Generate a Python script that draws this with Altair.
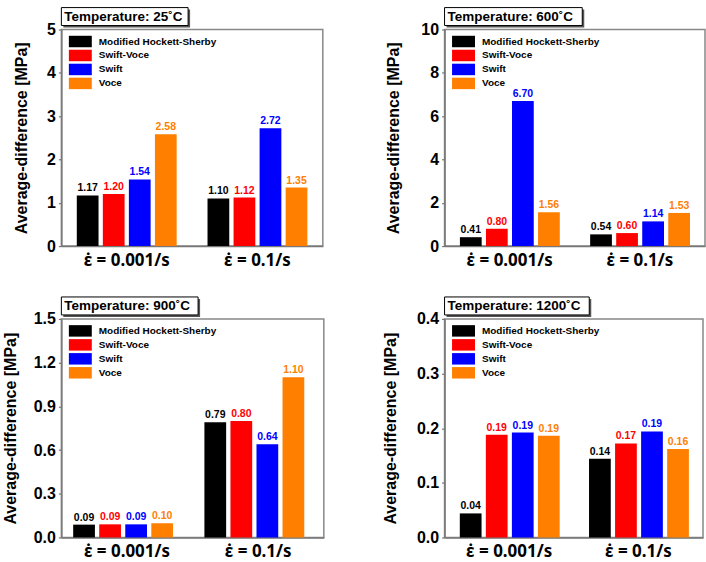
import altair as alt
import pandas as pd

FONT = "Liberation Sans"

models = ["Modified Hockett-Sherby", "Swift-Voce", "Swift", "Voce"]
colors = ["#000000", "#FF0000", "#0000FF", "#FF8000"]
rates = ["ε̇ = 0.001/s", "ε̇ = 0.1/s"]

temps = ["25", "600", "900", "1200"]

v25_slow = [1.17, 1.20, 1.54, 2.58]
v25_fast = [1.10, 1.12, 2.72, 1.35]
v600_slow = [0.41, 0.80, 6.70, 1.56]
v600_fast = [0.54, 0.60, 1.14, 1.53]
v900_slow = [0.088, 0.090, 0.090, 0.098]
v900_fast = [0.79, 0.80, 0.64, 1.10]
v1200_slow = [0.044, 0.188, 0.192, 0.186]
v1200_fast = [0.144, 0.172, 0.194, 0.162]

ticks25 = [0, 1, 2, 3, 4, 5]
ticks600 = [0, 2, 4, 6, 8, 10]
ticks900 = [0.0, 0.3, 0.6, 0.9, 1.2, 1.5]
ticks1200 = [0.0, 0.1, 0.2, 0.3, 0.4]


def panel(temp, slow, fast, ticks, fmt, w, h, box_w, title_x, pad_in, off_pad):
    df = pd.DataFrame({
        "rate": [rates[0]] * 4 + [rates[1]] * 4,
        "model": models * 2,
        "value": slow + fast,
    })
    x = alt.X("rate:N", sort=rates, title=None,
              scale=alt.Scale(paddingInner=pad_in, paddingOuter=pad_in / 2),
              axis=alt.Axis(labelAngle=0, ticks=False, tickSize=0, labelPadding=6,
                            labelFontSize=17, labelFont="Noto Sans", labelFontWeight="bold",
                            labelColor="black"))
    xo = alt.XOffset("model:N", sort=models,
                     scale=alt.Scale(paddingInner=off_pad, paddingOuter=0))
    y = alt.Y("value:Q", title="Average-difference [MPa]",
              scale=alt.Scale(domain=[0, ticks[-1]], nice=False, zero=True),
              axis=alt.Axis(values=ticks, format=fmt, grid=False, tickSize=3,
                            labelPadding=3, labelFontSize=16, labelFont=FONT,
                            labelFontWeight="bold", labelColor="black",
                            titleFontSize=16, titleFont=FONT, titleFontWeight="bold",
                            titleColor="black", titleX=title_x, titleBaseline="middle"))
    color = alt.Color("model:N", sort=models,
                      scale=alt.Scale(domain=models, range=colors),
                      legend=alt.Legend(orient="none", legendX=13, legendY=6, title=None,
                                        symbolType="M-2,-1H2V1H-2Z", symbolSize=132,
                                        symbolStrokeWidth=0, symbolOpacity=1,
                                        labelFont=FONT, labelFontSize=10,
                                        labelFontWeight="bold", labelColor="black",
                                        labelOffset=12.5, rowPadding=2, padding=0))
    bars = alt.Chart(df).mark_bar().encode(x=x, xOffset=xo, y=y, color=color)
    labels = alt.Chart(df).mark_text(
        baseline="bottom", dy=-2, fontSize=10.5, fontWeight="bold", font=FONT
    ).encode(x=x, xOffset=xo, y=y,
             color=alt.Color("model:N", scale=alt.Scale(domain=models, range=colors), legend=None),
             text=alt.Text("value:Q", format=".2f"))
    tdf = pd.DataFrame({"t": [f"Temperature: {temp}˚C"]})
    shadow = alt.Chart(tdf).mark_rect(fill="#555555").encode(
        x=alt.value(2), x2=alt.value(box_w + 2), y=alt.value(-20), y2=alt.value(-2))
    box = alt.Chart(tdf).mark_rect(fill="white", stroke="black", strokeWidth=1).encode(
        x=alt.value(0), x2=alt.value(box_w), y=alt.value(-22), y2=alt.value(-4))
    ttl = alt.Chart(tdf).mark_text(align="left", baseline="middle", fontSize=13.5,
                                   fontWeight="bold", font=FONT, color="black").encode(
        x=alt.value(3), y=alt.value(-12.5), text="t:N")
    return alt.layer(bars, labels, shadow, box, ttl).properties(width=w, height=h)


p1 = panel(temps[0], v25_slow, v25_fast, ticks25, "d", 262, 217, 127, -40, 0.236, 0.165)
p2 = panel(temps[1], v600_slow, v600_fast, ticks600, "d", 261, 217, 138, -51, 0.236, 0.165)
p3 = panel(temps[2], v900_slow, v900_fast, ticks900, ".1f", 263, 219, 137, -51, 0.18, 0.24)
p4 = panel(temps[3], v1200_slow, v1200_fast, ticks1200, ".1f", 259, 219, 145, -54, 0.236, 0.165)

chart = alt.concat(p1, p2, p3, p4, columns=2, spacing={"row": 73, "column": 121},
                   bounds="flush").resolve_scale(
    color="independent").resolve_legend(color="independent").properties(
    padding={"left": 1.5, "top": 5, "right": 0, "bottom": 0},
    background="white",
).configure_view(stroke="#888888", strokeWidth=1.5).configure_axis(
    domainColor="#777777", domainWidth=1.5, tickColor="#777777", tickWidth=1.2)

chart.save("out.html", embed_options={"renderer": "svg", "actions": False})
